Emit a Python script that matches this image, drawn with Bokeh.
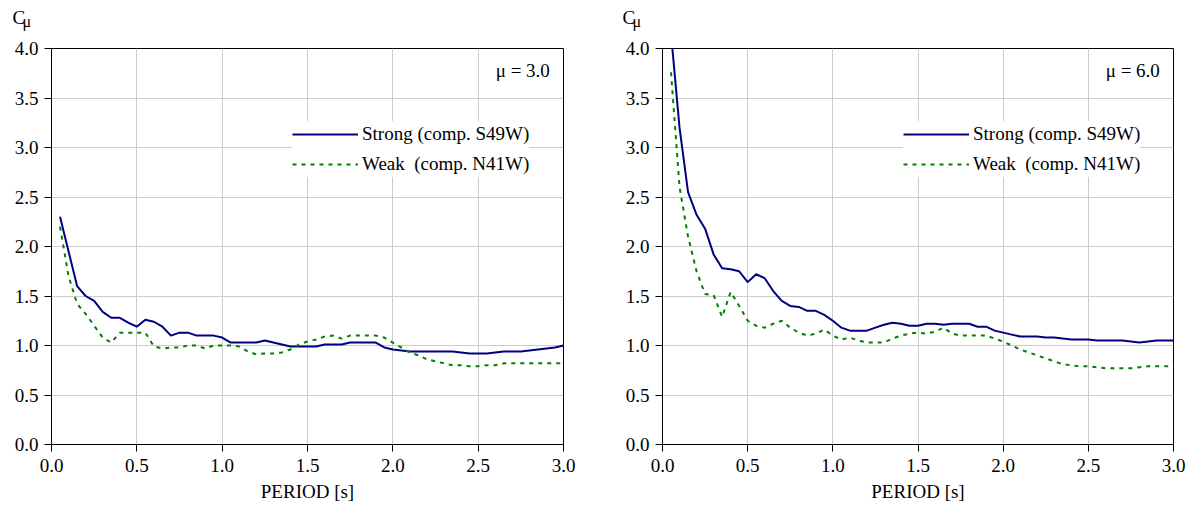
from bokeh.plotting import figure
from bokeh.layouts import row
from bokeh.models import Label, Legend, LegendItem, FixedTicker, NumeralTickFormatter, Range1d, Title
from bokeh.embed import file_html
from bokeh.resources import INLINE

periods = [0.05, 0.10, 0.15, 0.20, 0.25, 0.30, 0.35, 0.40, 0.45, 0.50,
           0.55, 0.60, 0.65, 0.70, 0.75, 0.80, 0.85, 0.90, 0.95, 1.00,
           1.05, 1.10, 1.15, 1.20, 1.25, 1.30, 1.35, 1.40, 1.45, 1.50,
           1.55, 1.60, 1.65, 1.70, 1.75, 1.80, 1.85, 1.90, 1.95, 2.00,
           2.05, 2.10, 2.15, 2.20, 2.25, 2.30, 2.35, 2.40, 2.45, 2.50,
           2.55, 2.60, 2.65, 2.70, 2.75, 2.80, 2.85, 2.90, 2.95, 3.00]

strong_mu3 = [2.30, 1.95, 1.60, 1.50, 1.45, 1.34, 1.28, 1.28, 1.23, 1.19,
              1.26, 1.24, 1.19, 1.10, 1.13, 1.13, 1.10, 1.10, 1.10, 1.08,
              1.03, 1.03, 1.03, 1.03, 1.05, 1.03, 1.01, 0.99, 0.99, 0.99,
              0.99, 1.01, 1.01, 1.01, 1.03, 1.03, 1.03, 1.03, 0.98, 0.96,
              0.95, 0.94, 0.94, 0.94, 0.94, 0.94, 0.94, 0.93, 0.92, 0.92,
              0.92, 0.93, 0.94, 0.94, 0.94, 0.95, 0.96, 0.97, 0.98, 1.00]

weak_mu3 = [2.20, 1.70, 1.42, 1.32, 1.20, 1.08, 1.03, 1.13, 1.13, 1.13,
            1.13, 0.99, 0.97, 0.98, 0.98, 1.00, 1.00, 0.97, 1.00, 1.00,
            1.00, 0.99, 0.94, 0.91, 0.92, 0.92, 0.93, 0.96, 1.01, 1.04,
            1.06, 1.09, 1.10, 1.07, 1.10, 1.10, 1.10, 1.10, 1.08, 1.03,
            0.98, 0.93, 0.90, 0.86, 0.84, 0.82, 0.80, 0.80, 0.79, 0.79,
            0.80, 0.80, 0.82, 0.82, 0.82, 0.82, 0.82, 0.82, 0.82, 0.82]

strong_mu6 = [4.15, 3.20, 2.55, 2.32, 2.18, 1.92, 1.78, 1.77, 1.75, 1.64,
              1.72, 1.68, 1.55, 1.45, 1.40, 1.39, 1.35, 1.35, 1.31, 1.25,
              1.18, 1.15, 1.15, 1.15, 1.18, 1.21, 1.23, 1.22, 1.20, 1.20,
              1.22, 1.22, 1.21, 1.22, 1.22, 1.22, 1.19, 1.19, 1.15, 1.13,
              1.11, 1.09, 1.09, 1.09, 1.08, 1.08, 1.07, 1.06, 1.06, 1.06,
              1.05, 1.05, 1.05, 1.05, 1.04, 1.03, 1.04, 1.05, 1.05, 1.05]

weak_mu6 = [3.76, 2.60, 2.10, 1.75, 1.52, 1.51, 1.29, 1.54, 1.40, 1.25,
            1.20, 1.18, 1.22, 1.25, 1.18, 1.13, 1.10, 1.12, 1.16, 1.10,
            1.06, 1.08, 1.05, 1.03, 1.03, 1.03, 1.07, 1.10, 1.12, 1.13,
            1.12, 1.14, 1.18, 1.12, 1.10, 1.10, 1.10, 1.10, 1.07, 1.04,
            1.00, 0.96, 0.93, 0.90, 0.87, 0.84, 0.81, 0.80, 0.79, 0.79,
            0.78, 0.77, 0.77, 0.77, 0.77, 0.78, 0.79, 0.79, 0.79, 0.79]

x_ticks = [0.0, 0.5, 1.0, 1.5, 2.0, 2.5, 3.0]
y_ticks = [0.0, 0.5, 1.0, 1.5, 2.0, 2.5, 3.0, 3.5, 4.0]
legend_labels = ["Strong (comp. S49W)", "Weak  (comp. N41W)"]
mu_labels = ["\u03bc = 3.0", "\u03bc = 6.0"]
x_label = "PERIOD [s]"
y_label_main = "C"
y_label_sub = "\u03bc"

FONT = "Liberation Serif"
FS = "19px"


def panel(strong, weak, mu_text, frame_w, right_border, c_off, mu_off):
    p = figure(frame_width=frame_w, frame_height=396,
               min_border_left=51, min_border_right=right_border,
               min_border_top=48, min_border_bottom=62,
               x_range=Range1d(0, 3), y_range=Range1d(0, 4),
               output_backend="svg", toolbar_location=None,
               background_fill_color="white", border_fill_color="white")
    p.outline_line_color = "black"
    p.outline_line_width = 1
    for ax in (p.xaxis[0], p.yaxis[0]):
        ax.major_label_text_font = FONT
        ax.major_label_text_font_size = FS
        ax.major_label_text_color = "black"
        ax.axis_line_color = "black"
        ax.major_tick_line_color = "black"
        ax.major_tick_out = 7
        ax.major_tick_in = 0
        ax.minor_tick_out = 0
        ax.minor_tick_in = 0
        ax.formatter = NumeralTickFormatter(format="0.0")
    p.xaxis.ticker = FixedTicker(ticks=x_ticks)
    p.yaxis.ticker = FixedTicker(ticks=y_ticks)
    p.xaxis.major_label_standoff = 7
    p.yaxis.major_label_standoff = 6
    p.xaxis.axis_label = x_label
    p.xaxis.axis_label_text_font = FONT
    p.xaxis.axis_label_text_font_size = FS
    p.xaxis.axis_label_text_font_style = "normal"
    p.xaxis.axis_label_text_color = "black"
    p.xaxis.axis_label_standoff = 6
    p.xgrid.ticker = FixedTicker(ticks=x_ticks)
    p.ygrid.ticker = FixedTicker(ticks=y_ticks)
    p.grid.grid_line_color = "#cccccc"
    p.grid.grid_line_width = 1

    r1 = p.line(periods, strong, line_color="#000080", line_width=2)
    r2 = p.line(periods, weak, line_color="#008000", line_width=2, line_dash="4 5")

    leg = Legend(items=[LegendItem(label=legend_labels[0], renderers=[r1]),
                        LegendItem(label=legend_labels[1], renderers=[r2])],
                 location=(241, 267), orientation="vertical",
                 border_line_color=None, background_fill_color="white",
                 background_fill_alpha=1.0, glyph_width=66, glyph_height=26,
                 label_height=26, label_standoff=4, spacing=4, padding=4, margin=0,
                 label_text_font=FONT, label_text_font_size=FS, label_text_color="black")
    p.add_layout(leg, "center")

    p.add_layout(Label(x=2.92, y=3.78, text=mu_text, text_align="right",
                       text_baseline="middle", text_font=FONT, text_font_size=FS,
                       text_color="black"))

    # "C" with subscript "mu" above the y axis, stacked title panels
    p.add_layout(Title(text=" ", align="left", offset=0, standoff=9,
                       text_font=FONT, text_font_size="15px", text_font_style="normal",
                       text_color="white"), "above")
    p.add_layout(Title(text=y_label_sub, align="left", offset=mu_off, standoff=-16,
                       text_font=FONT, text_font_size="16px", text_font_style="normal",
                       text_color="black"), "above")
    p.add_layout(Title(text=y_label_main, align="left", offset=c_off, standoff=-18,
                       text_font=FONT, text_font_size=FS, text_font_style="normal",
                       text_color="black"), "above")
    return p


p1 = panel(strong_mu3, weak_mu3, mu_labels[0], 512, 48, -39, -29)
p2 = panel(strong_mu6, weak_mu6, mu_labels[1], 511, 14, -40, -30)
layout = row(p1, p2, spacing=0)

open("out.html", "w").write(file_html(layout, INLINE))
